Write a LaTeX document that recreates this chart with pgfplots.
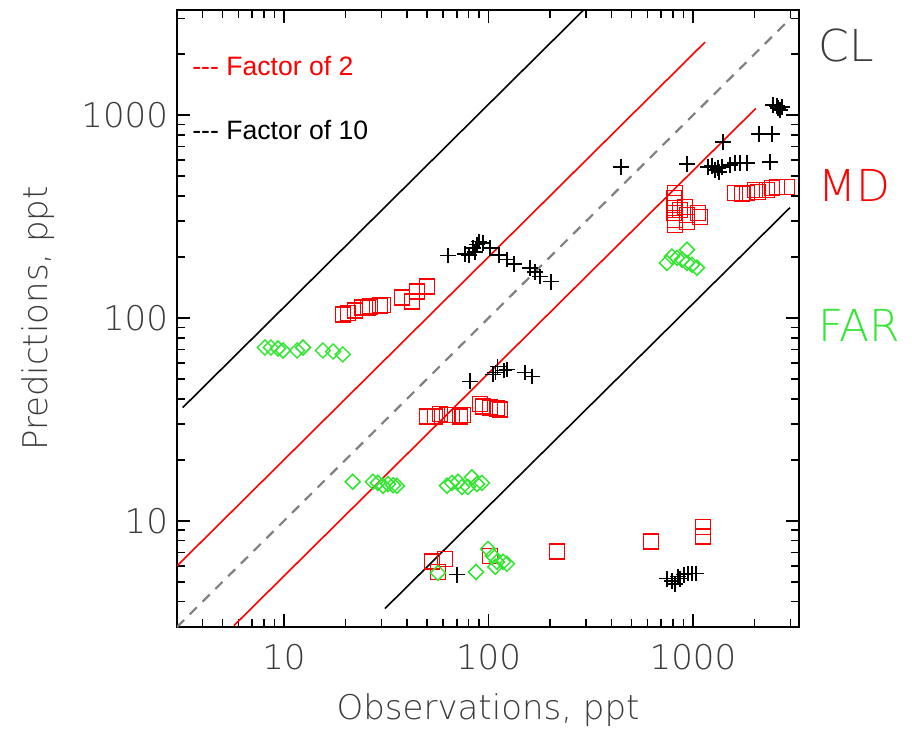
\documentclass[border=0pt]{standalone}
\usepackage{fontspec}
\setmainfont{Liberation Sans}
\newfontfamily\idl{DejaVu Sans ExtraLight}
\usepackage{pgfplots}
\pgfplotsset{compat=1.18}
\usetikzlibrary{calc}

\definecolor{labgray}{RGB}{60,60,60}
\definecolor{mdred}{RGB}{255,0,0}
\definecolor{fargreen}{RGB}{50,230,50}
\definecolor{dashgray}{RGB}{128,128,128}

% CL: chlorine species (black crosses)
\pgfplotstableread{
x y
63.4 203
76.7 207
80.4 205
84.0 222
87.9 230
89.9 238
85.9 212
94.0 235
101.7 222
112.5 205
123 194
133 185
160 177
169 169
179 160
202 151
81.3 48.8
105 52.7
108 54
111 57.8
119 55.2
123 55.8
151 54
163 51.6
445 555
935 574
1403 737
1184 555
1281 537
1341 525
1387 555
1517 568
1604 581
1698 581
1837 581
1238 561
1325 549
2104 807
2434 807
2381 588
2463 1120
2605 1082
2662 1058
2575 1107
2723 1095
746 5.19
789 5.07
817 4.90
845 5.31
864 5.19
903 5.43
945 5.50
989 5.50
1035 5.50
70.2 5.43
}\CLdata

% MD: red squares
\pgfplotstableread{
x y
19.4 104
20.6 106
22.3 109
24.1 113
25.7 113
26.3 114
29.5 115
30.5 116
37.8 126
42.3 121
44.7 135
50.0 143
50 32.8
54.7 32.8
57.9 33.6
62.7 33.2
66.3 33.2
72.6 32.8
75.1 33.2
90.8 37.6
94.0 36.7
102 36.3
110 35.9
114 35.5
53 6.3
61.2 6.5
56.6 5.6
102 6.7
216 7.05
623 7.9
1119 9.35
1119 8.4
817 414
807 391
817 370
817 349
807 330
817 305
817 288
864 341
914 353
935 323
935 298
1057 330
1082 315
1604 414
1738 409
1837 414
2010 428
2080 418
2301 428
2434 438
2575 443
2884 443
}\MDdata

% FAR: green diamonds
\pgfplotstableread{
x y
8.07 71.6
8.63 71.6
9.35 70.8
9.89 69.2
11.6 69.2
12.4 71.6
15.5 69.2
17.4 68.4
19.4 66.2
21.7 15.6
27.2 15.6
28.8 15.4
30.5 14.9
32.3 15.2
34.2 15.0
35.7 14.9
62.7 14.9
66.3 15.4
71.0 15.6
74.2 14.7
79.4 14.7
83.0 16.4
87.9 15.2
93.0 15.4
746 187
789 201
836 198
884 194
935 217
935 187
989 183
1047 177
56.6 5.55
86.9 5.6
99.5 7.28
105 6.73
110 6.29
108 5.94
118 6.29
123 6.15
}\FARdata

\begin{document}
\begin{tikzpicture}
\begin{axis}[
  name=ax,
  xmode=log, ymode=log,
  scale only axis,
  width=311pt, height=308.5pt,
  xmin=3, xmax=3300, ymin=3, ymax=3300,
  xtick={10,100,1000}, xticklabels={10,100,1000},
  ytick={10,100,1000}, yticklabels={10,100,1000},
  minor xtick={4,5,6,7,8,9,20,30,40,50,60,70,80,90,200,300,400,500,600,700,800,900,2000,3000},
  minor ytick={4,5,6,7,8,9,20,30,40,50,60,70,80,90,200,300,400,500,600,700,800,900,2000,3000},
  tick align=inside,
  major tick length=6.5pt, minor tick length=4pt,
  every tick/.style={black, line width=0.8pt},
  axis line style={line width=1pt},
  xticklabel style={font=\idl\fontsize{17}{17}\selectfont, text=labgray, yshift=-5pt},
  yticklabel style={font=\idl\fontsize{17}{17}\selectfont, text=labgray, xshift=-1pt},
  xlabel={Observations, ppt},
  ylabel={Predictions, ppt},
  label style={font=\idl\fontsize{17}{17}\selectfont, text=labgray},
  xlabel style={at={(rel axis cs:0.5,0)}, anchor=center, yshift=-41.5pt},
  ylabel style={at={(rel axis cs:0,0.5)}, anchor=center, yshift=69.5pt},
  clip=true,
]
% 1:1 line
\addplot[dashgray, line width=1.1pt, dash pattern=on 5pt off 4pt] coordinates {(3,3) (3000,3000)};
% factor of 2 lines
\addplot[mdred, line width=0.8pt] coordinates {(3,6) (1145,2290)};
\addplot[mdred, line width=0.8pt] coordinates {(5.7,3.05) (2030,1080)};
% factor of 10 lines
\addplot[black, line width=0.8pt] coordinates {(3.2,36.2) (292,3300)};
\addplot[black, line width=0.8pt] coordinates {(31.2,3.7) (2980,350)};

\addplot[only marks, mark=square, mark size=3.75pt, mdred, mark options={line width=0.75pt}] table {\MDdata};
\addplot[only marks, mark=square, mark size=2.65pt, fargreen, mark options={rotate=45, line width=0.75pt}] table {\FARdata};
\addplot[only marks, mark=+, mark size=3.9pt, black, mark options={line width=0.75pt}] table {\CLdata};

\node[anchor=west, inner sep=0pt, text=mdred, font=\fontsize{13.3}{13.3}\selectfont] at (rel axis cs:0.024,0.909) {-{}-{}- Factor of 2};
\node[anchor=west, inner sep=0pt, text=black, font=\fontsize{13.3}{13.3}\selectfont] at (rel axis cs:0.024,0.806) {-{}-{}- Factor of 10};
\end{axis}
\node[anchor=west, inner sep=0pt, text=labgray, font=\idl\fontsize{22}{22}\selectfont] at ([xshift=9.5pt]$(ax.north east)!0.057!(ax.south east)$) {CL};
\node[anchor=west, inner sep=0pt, text=mdred, font=\idl\fontsize{22}{22}\selectfont] at ([xshift=9.5pt]$(ax.north east)!0.284!(ax.south east)$) {MD};
\node[anchor=west, inner sep=0pt, text=fargreen, font=\idl\fontsize{22}{22}\selectfont] at ([xshift=9.5pt]$(ax.north east)!0.511!(ax.south east)$) {FAR};
\pgfresetboundingbox
\path ([shift={(-88.5pt,-52.5pt)}]ax.south west) rectangle ([shift={(56.5pt,5pt)}]ax.north east);
\end{tikzpicture}
\end{document}
